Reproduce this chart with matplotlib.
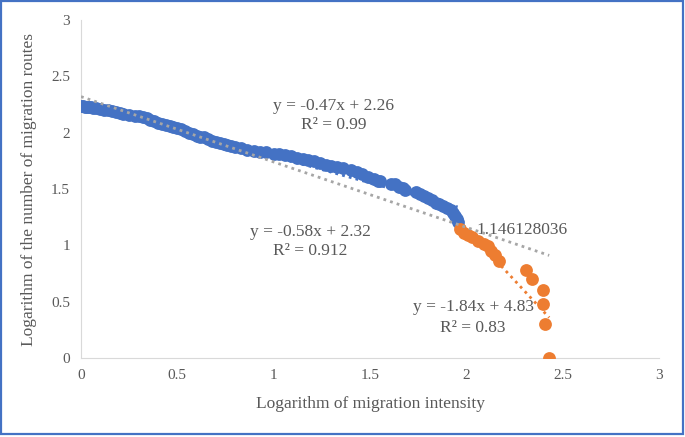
import matplotlib
matplotlib.use("Agg")
import matplotlib.pyplot as plt
import numpy as np
from matplotlib.patches import Rectangle

# blue segment
blue_x = [0.00, 0.01, 0.02, 0.03, 0.04, 0.05, 0.06, 0.08, 0.10, 0.12, 0.14, 0.16,
          0.18, 0.20, 0.22, 0.25, 0.28, 0.30, 0.32, 0.34, 0.36, 0.38, 0.40, 0.42,
          0.44, 0.46, 0.48, 0.50, 0.52, 0.54, 0.56, 0.58, 0.60, 0.62, 0.64, 0.66,
          0.68, 0.70, 0.72, 0.74, 0.76, 0.78, 0.80, 0.83, 0.86, 0.90, 0.93, 0.96,
          1.00, 1.03, 1.06, 1.09, 1.12, 1.15, 1.18, 1.21, 1.24, 1.27, 1.30, 1.33,
          1.36, 1.40, 1.43, 1.46, 1.49, 1.52, 1.54, 1.55, 1.61, 1.63, 1.65, 1.67,
          1.68, 1.74, 1.76, 1.78, 1.80, 1.82, 1.84, 1.86, 1.88, 1.90, 1.92, 1.93,
          1.94, 1.95, 1.955]
blue_y = [2.235, 2.233, 2.232, 2.230, 2.228, 2.225, 2.222, 2.218, 2.210, 2.205, 2.198, 2.192,
          2.185, 2.175, 2.170, 2.160, 2.150, 2.145, 2.138, 2.130, 2.115, 2.100, 2.090, 2.080,
          2.070, 2.060, 2.050, 2.040, 2.030, 2.015, 2.000, 1.985, 1.970, 1.965, 1.960, 1.945,
          1.930, 1.920, 1.910, 1.900, 1.890, 1.880, 1.870, 1.860, 1.850, 1.840, 1.830, 1.825,
          1.815, 1.810, 1.800, 1.790, 1.775, 1.765, 1.755, 1.745, 1.730, 1.715, 1.705, 1.695,
          1.685, 1.670, 1.650, 1.630, 1.610, 1.590, 1.575, 1.570, 1.545, 1.540, 1.520, 1.505,
          1.495, 1.470, 1.460, 1.440, 1.420, 1.400, 1.380, 1.370, 1.350, 1.330, 1.310, 1.290,
          1.260, 1.230, 1.210]

# orange segment
orange_x = [1.967, 1.99, 2.01, 2.03, 2.06, 2.09, 2.11, 2.13, 2.15, 2.17,
            2.31, 2.34, 2.40, 2.40, 2.41, 2.43]
orange_y = [1.146128036, 1.11, 1.09, 1.07, 1.04, 1.01, 0.99, 0.95, 0.91, 0.86,
            0.78, 0.70, 0.60, 0.48, 0.30, 0.00]

# trendlines (slope, intercept, x range)
fit_all = (-0.58, 2.32, 0.0, 2.43)
fit_blue = (-0.47, 2.26, 0.0, 1.955)
fit_orange = (-1.84, 4.83, 1.96, 2.43)

blue = "#4472C4"
orange = "#ED7D31"
gray_txt = "#595959"

plt.rcParams['font.family'] = ['Liberation Serif', 'DejaVu Serif']

fig = plt.figure(figsize=(6.85, 4.37), dpi=100)
ax = fig.add_axes([81/685, 1 - 358/437, (659-81)/685, (358-20)/437])

ax.scatter(blue_x, blue_y, s=85, color=blue, zorder=3, linewidths=0)
ax.scatter(orange_x, orange_y, s=85, color=orange, zorder=3, linewidths=0)

for (m, b, x0, x1), c, z in [(fit_blue, blue, 4), (fit_all, "#A6A6A6", 4), (fit_orange, orange, 2)]:
    xs = np.array([x0, x1])
    ax.plot(xs, m * xs + b, linestyle=(0, (1, 1.5)), color=c, linewidth=2, zorder=z)

fs = 12.5
ax.text(1.31, 2.24, "y = -0.47x + 2.26", ha="center", va="center", fontsize=fs, color=gray_txt)
ax.text(1.31, 2.07, "R² = 0.99", ha="center", va="center", fontsize=fs, color=gray_txt)
ax.text(1.19, 1.12, "y = -0.58x + 2.32", ha="center", va="center", fontsize=fs, color=gray_txt)
ax.text(1.19, 0.95, "R² = 0.912", ha="center", va="center", fontsize=fs, color=gray_txt)
ax.text(2.035, 0.45, "y = -1.84x + 4.83", ha="center", va="center", fontsize=fs, color=gray_txt)
ax.text(2.035, 0.27, "R² = 0.83", ha="center", va="center", fontsize=fs, color=gray_txt)
ax.text(2.05, 1.14, "1.146128036", ha="left", va="center", fontsize=fs, color=gray_txt)

ax.set_xlim(0, 3)
ax.set_ylim(0, 3)
ax.set_xticks([0, 0.5, 1, 1.5, 2, 2.5, 3])
ax.set_xticklabels(["0", "0.5", "1", "1.5", "2", "2.5", "3"])
ax.set_yticks([0, 0.5, 1, 1.5, 2, 2.5, 3])
ax.set_yticklabels(["0", "0.5", "1", "1.5", "2", "2.5", "3"])
ax.tick_params(length=0, labelsize=11, colors=gray_txt, pad=8)
for s in ["top", "right"]:
    ax.spines[s].set_visible(False)
for s in ["left", "bottom"]:
    ax.spines[s].set_color("#D9D9D9")
    ax.spines[s].set_linewidth(0.8)
ax.set_xlabel("Logarithm of migration intensity", fontsize=12.5, color=gray_txt, labelpad=10)
ax.set_ylabel("Logarithm of the number of migration routes", fontsize=12.5, color=gray_txt, labelpad=10)

fig.patches.append(Rectangle((1/685, 3/437), 682/685, 433/437, transform=fig.transFigure,
                             fill=False, edgecolor=blue, linewidth=1.6))

fig.savefig("out.png", dpi=100)
